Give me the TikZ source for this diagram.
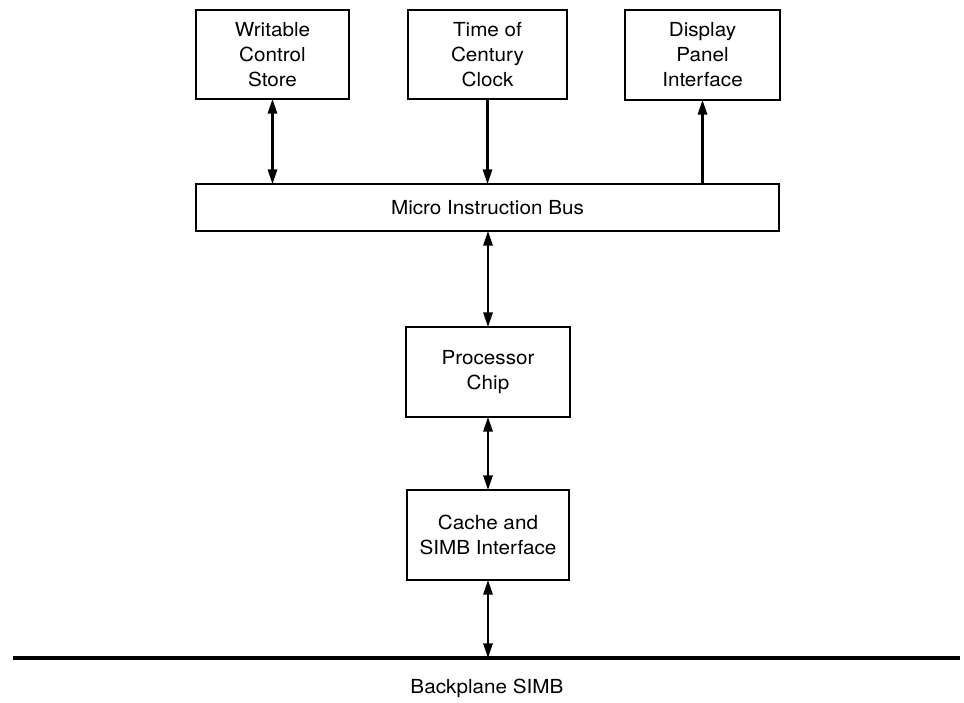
\documentclass[tikz,border=0pt]{standalone}
\usepackage{fontspec}
\newfontfamily\lblfont[FakeStretch=1.07]{TeX Gyre Heros}
\usetikzlibrary{arrows.meta}
\begin{document}
\begin{tikzpicture}[x=0.75pt,y=-0.75pt,
  >={Triangle[length=11pt,width=7pt]},
  blockbox/.style={draw, line width=2.2pt, align=center, inner sep=0pt, outer sep=0pt,
    font={\lblfont\fontsize{14.5}{18.75}\selectfont}},
  link/.style={line width=1.6pt},
  lbl/.style={font={\lblfont\fontsize{14.5}{18.75}\selectfont}}]
\useasboundingbox (0,0) rectangle (964,703);

% peripheral units on the micro instruction bus
\node[blockbox, minimum width=114.75pt, minimum height=66.75pt] (wcs) at (272.5,54.5)
  {Writable\\Control\\Store};
\node[blockbox, minimum width=119.25pt, minimum height=66.75pt] (toc) at (487.5,54.5)
  {Time of\\Century\\Clock};
\node[blockbox, minimum width=116.25pt, minimum height=67.5pt] (dpi) at (702.5,55)
  {Display\\Panel\\Interface};

% the bus itself
\node[blockbox, minimum width=437.25pt, minimum height=35.25pt] (bus) at (487.5,207.5)
  {Micro Instruction Bus};

% processor and cache
\node[blockbox, minimum width=123pt, minimum height=67.5pt] (cpu) at (488,372)
  {Processor\\Chip};
\node[blockbox, minimum width=121.5pt, minimum height=67.5pt] (cache) at (488,535)
  {Cache and\\SIMB Interface};

% backplane
\coordinate (bpL) at (13,658);
\coordinate (bpR) at (960,658);
\coordinate (bpTap) at (488,658);
\draw[line width=3pt] (bpL) -- (bpR);
\node[lbl] (bpname) at (487,688) {Backplane SIMB};

% connections
\draw[link,<->] (wcs.south) -- (wcs.south |- bus.north);
\draw[link,->] (toc.south) -- (toc.south |- bus.north);
\draw[link,->] (dpi.south |- bus.north) -- (dpi.south);
\draw[link,<->] (bus.south -| cpu.north) -- (cpu.north);
\draw[link,<->] (cpu.south) -- (cache.north);
\draw[link,<->] (cache.south) -- (bpTap);
\end{tikzpicture}
\end{document}
